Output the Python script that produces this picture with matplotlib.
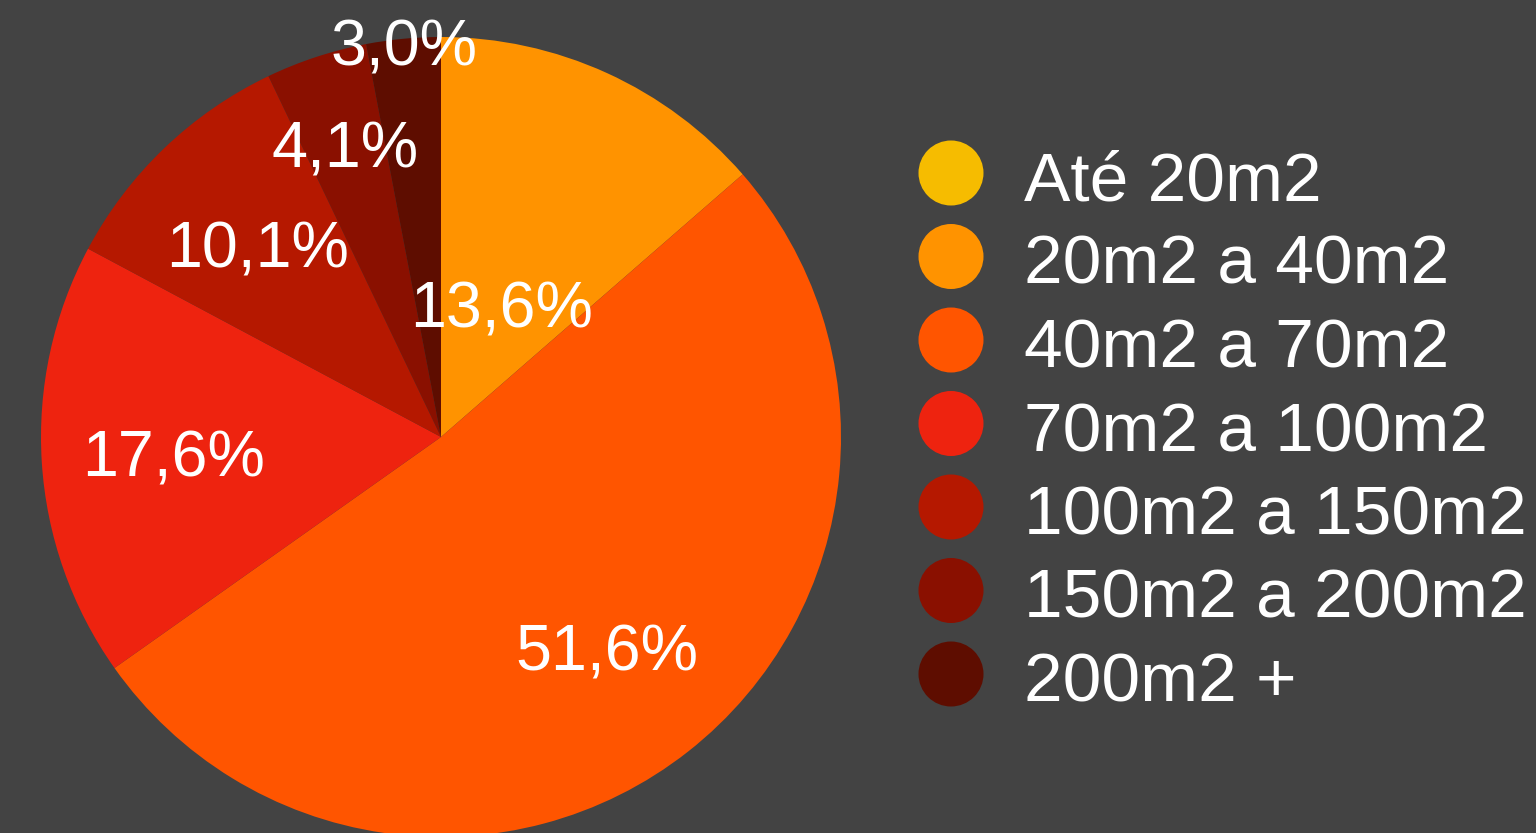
import matplotlib
matplotlib.use("Agg")
import matplotlib.pyplot as plt
import numpy as np
from matplotlib.patches import Circle

# ---- data ----
categories = ["Até 20m2", "20m2 a 40m2", "40m2 a 70m2", "70m2 a 100m2",
              "100m2 a 150m2", "150m2 a 200m2", "200m2 +"]
values = [0.0, 13.6, 51.6, 17.6, 10.1, 4.1, 3.0]
colors = ["#F6BC00", "#FF9300", "#FF5500", "#EE230F", "#B51800", "#8A1000", "#5E0D00"]
# radial position of each percentage label (fraction of radius)
label_radius = [0.0, 0.365, 0.67, 0.67, 0.665, 0.77, 0.99]

BG = "#434343"
W, H, DPI = 1536, 833, 100
plt.rcParams['font.family'] = ['Liberation Sans', 'DejaVu Sans']

fig = plt.figure(figsize=(W / DPI, H / DPI), dpi=DPI, facecolor=BG)

# pie axes: centre (441,437) px from top-left, radius 400 px
cx, cy, R = 441, 437, 400
ax = fig.add_axes([(cx - R) / W, (H - cy - R) / H, 2 * R / W, 2 * R / H])
ax.set_facecolor(BG)
wedges, _ = ax.pie(values, colors=colors, startangle=90, counterclock=False,
                   radius=1.0, wedgeprops=dict(linewidth=0))
ax.set_xlim(-1, 1)
ax.set_ylim(-1, 1)
ax.set_aspect('equal')
ax.axis('off')

# percentage labels
total = float(sum(values))
cum = np.cumsum([0.0] + values)
cap_half = 23.0 / R  # half cap-height in data units
for i, v in enumerate(values):
    if v <= 0:
        continue
    mid = (cum[i] + v / 2) / total * 360.0  # degrees clockwise from top
    th = np.deg2rad(mid)
    rr = label_radius[i]
    x, y = rr * np.sin(th), rr * np.cos(th)
    txt = f"{v:.1f}".replace('.', ',') + '%'
    ax.text(x, y - cap_half, txt, ha='center', va='baseline',
            color='white', fontsize=46.5, clip_on=False, zorder=5)

# legend overlay in pixel coordinates
lax = fig.add_axes([0, 0, 1, 1], facecolor='none')
lax.set_xlim(0, W)
lax.set_ylim(H, 0)
lax.axis('off')
leg_x0, leg_y0, leg_dy = 951, 173, 83.5
for i, (cat, col) in enumerate(zip(categories, colors)):
    yc = leg_y0 + i * leg_dy
    lax.add_patch(Circle((leg_x0, yc), 32.5, facecolor=col, edgecolor='none'))
    lax.text(1024, yc + 27.5, cat, ha='left', va='baseline', color='white',
             fontsize=50)

fig.savefig("out.png", dpi=DPI, facecolor=BG)
